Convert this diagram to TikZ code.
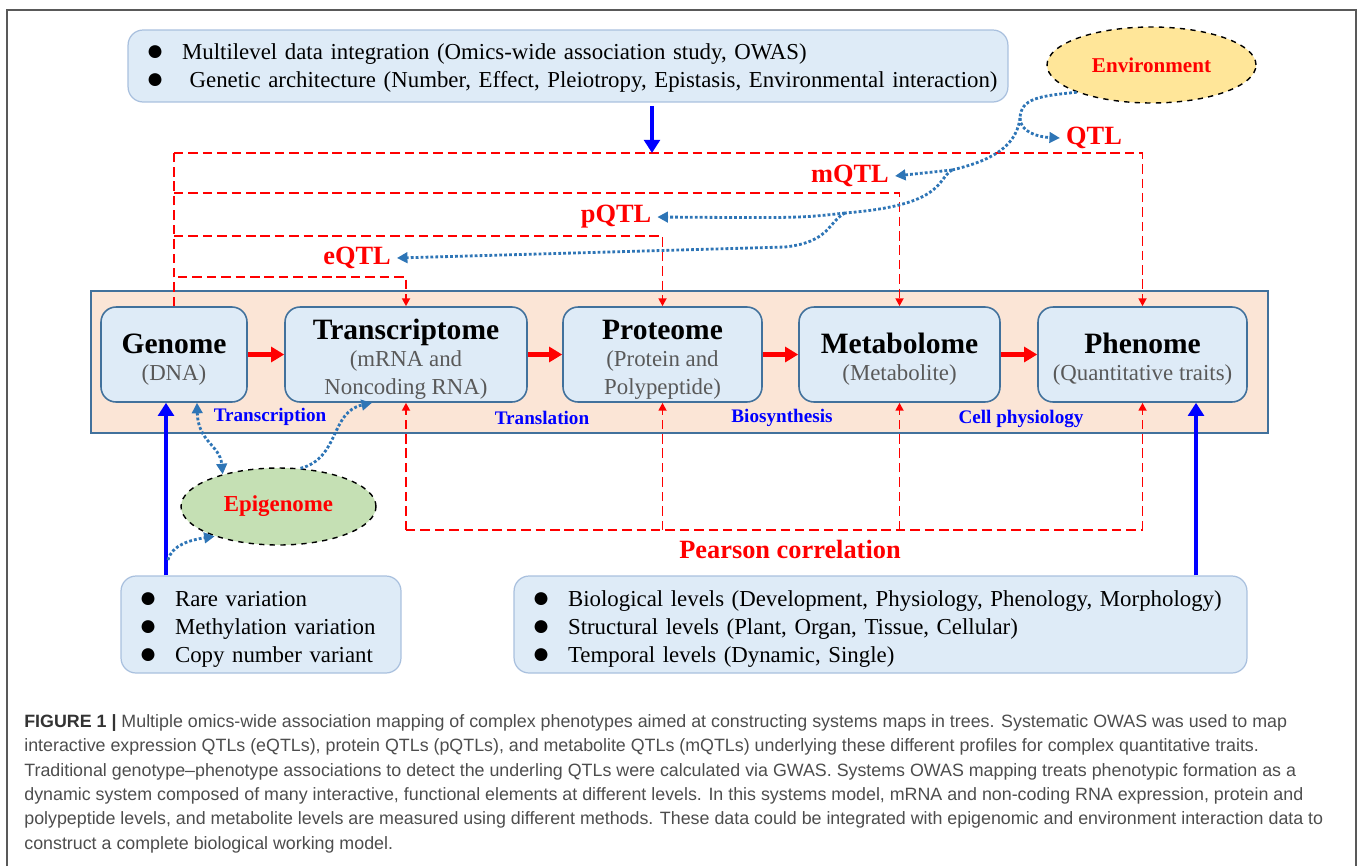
\documentclass[tikz,border=0pt]{standalone}
\usepackage{fontspec}
\setmainfont{Liberation Serif}
\newfontfamily\capfont{Liberation Sans}
\usetikzlibrary{arrows.meta,shapes.geometric}
\definecolor{boxblue}{HTML}{DEEBF7}
\definecolor{boxline}{HTML}{41719C}
\definecolor{infoline}{HTML}{A9C0DE}
\definecolor{peach}{HTML}{FBE5D6}
\definecolor{dotblue}{HTML}{2E75B6}
\definecolor{envyellow}{HTML}{FFE699}
\definecolor{epigreen}{HTML}{C5E0B4}
\definecolor{subgray}{HTML}{595959}
\definecolor{capgray}{HTML}{4D4D4D}
\newcommand{\dotitem}[1]{\mbox{\makebox[0.72cm][l]{\raisebox{-0.6pt}{\fontsize{17}{0}\selectfont●}}#1}}
\newcommand{\omtitle}[1]{{\color{black}\fontsize{16.8}{15.9}\selectfont\bfseries\rule{0pt}{17pt}#1}}
\begin{document}
\begin{tikzpicture}[x=0.02cm,y=-0.02cm,
  omics/.style={draw=boxline,line width=0.9pt,fill=boxblue,rounded corners=0.3cm,minimum height=1.9cm,inner sep=0pt,align=center,text=subgray,font=\fontsize{13}{15.9}\selectfont},
  infobox/.style={draw=infoline,line width=0.7pt,fill=boxblue,rounded corners=0.3cm,inner xsep=0.36cm,inner ysep=0pt,align=left,font=\fontsize{13}{15.9}\selectfont},
  qtl/.style={text=red,font=\fontsize{15}{18}\selectfont\bfseries},
  process/.style={text=blue,font=\fontsize{10.9}{13}\selectfont\bfseries},
  qtlline/.style={red,line width=1.1pt,dash pattern=on 5.4pt off 2.8pt},
  qtlarrow/.style={qtlline,-{Triangle[length=4.5pt,width=4.5pt]}},
  envline/.style={dotblue,line width=1.6pt,dash pattern=on 1.6pt off 1.2pt},
  envarrow/.style={envline,-{Triangle[length=6pt,width=6pt]}},
  flow/.style={red,line width=3.2pt,-{Triangle[length=7.5pt,width=8.5pt]}},
  lift/.style={blue,line width=2.8pt,-{Triangle[length=7.5pt,width=9pt]}},
  factor/.style={ellipse,draw,dashed,line width=0.8pt,inner sep=0pt,text=red}
]
\useasboundingbox (0,0) rectangle (1358,866);
\draw[line width=0.9pt,black!65] (7,866) -- (7,10) -- (1356,10) -- (1356,866);

\node[infobox,text width=16.88cm,minimum height=1.44cm] (owasbox) at (568,66)
  {\rule{0pt}{11.5pt}\dotitem{Multilevel data integration (Omics-wide association study, OWAS)}\\
   \dotitem{\ Genetic architecture (Number, Effect, Pleiotropy, Epistasis, Environmental interaction)}};
\node[factor,fill=envyellow,minimum width=4.18cm,minimum height=1.52cm,font=\fontsize{12}{14}\selectfont\bfseries] (env) at (1151.5,65) {Environment};

\draw[boxline,fill=peach,line width=0.9pt] (91,291) rectangle (1268,433);
\node[omics,minimum width=2.92cm] (genome) at (174,354.5) {\omtitle{Genome}\\(DNA)};
\node[omics,minimum width=4.84cm] (transcriptome) at (406,354.5) {\omtitle{Transcriptome}\\(mRNA and\\Noncoding RNA)};
\node[omics,minimum width=3.98cm] (proteome) at (662.5,354.5) {\omtitle{Proteome}\\(Protein and\\Polypeptide)};
\node[omics,minimum width=4.02cm] (metabolome) at (899.5,354.5) {\omtitle{Metabolome}\\(Metabolite)};
\node[omics,minimum width=4.18cm] (phenome) at (1142.5,354.5) {\omtitle{Phenome}\\(Quantitative traits)};
\foreach \a/\b in {genome/transcriptome,transcriptome/proteome,proteome/metabolome,metabolome/phenome}
  \draw[flow] (\a) -- (\b);
\node[process] (transcription) at (270,417) {Transcription};
\node[process] (translation) at (542,418) {Translation};
\node[process] (biosynthesis) at (782,418) {Biosynthesis};
\node[process] (cellphys) at (1021,419) {Cell physiology};

\node[qtl] (qtl) at (1094,138) {QTL};
\node[qtl] (mqtl) at (850,176) {mQTL};
\node[qtl] (pqtl) at (616,217) {pQTL};
\node[qtl] (eqtl) at (357,258) {eQTL};
\coordinate (qtop) at (174,153);
\coordinate (mtop) at (174,193);
\coordinate (ptop) at (174,236);
\coordinate (etop) at (178,277);
\draw[qtlline] (genome.north) -- (qtop);
\draw[qtlarrow] (qtop) -| (phenome.north);
\draw[qtlarrow] (mtop) -| (metabolome.north);
\draw[qtlarrow] (ptop) -| (proteome.north);
\draw[qtlarrow] (etop) -| (transcriptome.north);
\coordinate (owas) at (652,153);
\draw[lift] ([yshift=-2pt]owasbox.south -| owas) -- (owas);

\coordinate (j1) at (1020,118);
\coordinate (j2) at (952,170);
\coordinate (j3) at (845,213);
\draw[envline] (env.200) .. controls (1040,96) and (1021,98) .. (j1);
\draw[envarrow] (j1) .. controls (1020,132) and (1038,137) .. (qtl.west);
\draw[envline] (j1) .. controls (1016,150) and (985,162) .. (j2);
\draw[envarrow] (j2) -- (mqtl.east);
\draw[envline] (j2) .. controls (936,180) and (945,205) .. (j3);
\draw[envarrow] (j3) .. controls (800,218) .. (pqtl.east);
\draw[envarrow] (j3) .. controls (828,222) and (830,242) .. (785,247) -- (eqtl.east);

\coordinate (corr) at (406,530);
\draw[qtlline] (corr) -- (corr -| phenome.south);
\foreach \n in {transcriptome,proteome,metabolome,phenome}
  \draw[qtlarrow] (corr -| \n.south) -- (\n.south);
\node[qtl] (pearson) at (790,549) {Pearson correlation};

\node[factor,fill=epigreen,minimum width=3.9cm,minimum height=1.54cm,font=\fontsize{13}{15}\selectfont\bfseries] (epi) at (278.5,506.5) {Epigenome};
\draw[envline,{Triangle[length=6pt,width=6pt]}-{Triangle[length=6pt,width=6pt]}]
  ([xshift=0.46cm]genome.south) .. controls (198,442) and (220,445) .. (epi.150);
\draw[envarrow] (epi.60) .. controls (340,458) and (330,412) .. ([xshift=-0.68cm]transcriptome.south);

\node[infobox,text width=4.88cm,minimum height=1.94cm] (varbox) at (261,624.5)
  {\rule{0pt}{13.7pt}\dotitem{Rare variation}\\\dotitem{Methylation variation}\\\dotitem{Copy number variant}};
\node[infobox,text width=13.94cm,minimum height=1.94cm] (levelbox) at (880.5,624.5)
  {\rule{0pt}{13.7pt}\dotitem{Biological levels (Development, Physiology, Phenology, Morphology)}\\
   \dotitem{Structural levels (Plant, Organ, Tissue, Cellular)}\\
   \dotitem{Temporal levels (Dynamic, Single)}};
\coordinate (gbase) at (166,0);
\coordinate (pbase) at (1196,0);
\draw[lift] (varbox.north -| gbase) -- (genome.south -| gbase);
\draw[lift] (levelbox.north -| pbase) -- (phenome.south -| pbase);
\coordinate (epistart) at (168,560);
\draw[envarrow] (epistart) .. controls (172,545) and (190,540) .. (epi.205);

\node[anchor=north west,inner sep=0pt,align=left,text=capgray,font=\capfont\fontsize{10.15}{13.9}\selectfont] (caption) at (24,714)
  {{\color{black!80}\bfseries FIGURE 1 |} Multiple omics-wide association mapping of complex phenotypes aimed at constructing systems maps in trees. Systematic OWAS was used to map\\
   interactive expression QTLs (eQTLs), protein QTLs (pQTLs), and metabolite QTLs (mQTLs) underlying these different profiles for complex quantitative traits.\\
   Traditional genotype–phenotype associations to detect the underling QTLs were calculated via GWAS. Systems OWAS mapping treats phenotypic formation as a\\
   dynamic system composed of many interactive, functional elements at different levels. In this systems model, mRNA and non-coding RNA expression, protein and\\
   polypeptide levels, and metabolite levels are measured using different methods. These data could be integrated with epigenomic and environment interaction data to\\
   construct a complete biological working model.};
\end{tikzpicture}
\end{document}
